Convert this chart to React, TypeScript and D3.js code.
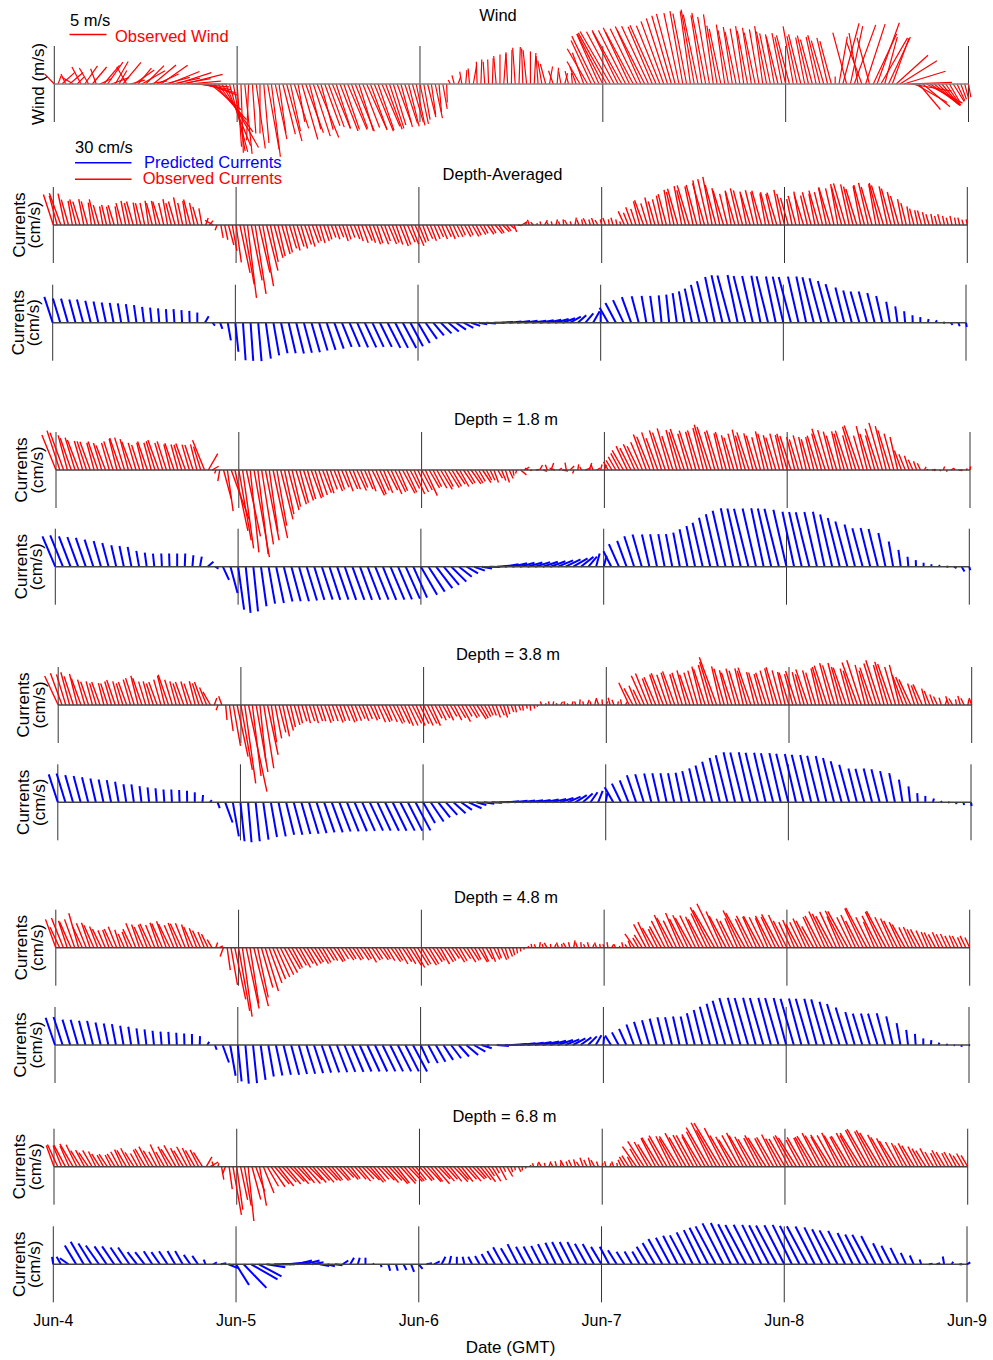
import React from 'react';
import * as d3 from 'd3';

// ---------------- DATA ----------------
const DAY_LABELS = ['Jun-4', 'Jun-5', 'Jun-6', 'Jun-7', 'Jun-8', 'Jun-9'];
const DAY_HOURS = [0, 24, 48, 72, 96, 120];

// Wind: every 30 min, speed (m/s) and direction the stick points (deg clockwise from north)
const windSpeed = [
  1.9,1.2,2.4,1.5,2.4,1.8,1.3,2.6,3.0,2.5,3.0,2.2,1.7,3.3,3.6,2.5,3.5,2.1,3.8,2.7,2.0,3.3,2.8,3.6,3.5,2.4,4.0,3.2,4.4,3.5,4.5,3.8,5.0,4.2,5.4,4.5,4.8,4.6,4.4,4.7,4.5,
  5.4,6.5,8.0,9.9,9.0,9.5,9.2,
  8.5,9.3,9.5,7.6,6.7,8.8,6.7,8.0,9.0,9.9,7.6,6.7,7.0,
  8.0,6.5,6.3,5.2,7.8,7.0,6.3,7.4,7.8,6.4,6.0,
  6.2,6.5,6.3,6.8,6.5,6.7,6.4,6.9,6.6,6.3,6.8,6.5,6.9,6.6,6.2,6.5,6.3,
  5.8,5.5,6.0,5.6,5.9,5.4,5.7,
  5.5,4.9,4.6,4.2,4.7,3.8,3.4,2.5,
  0.6,1.2,1.0,1.7,1.9,2.1,2.6,3.0,3.3,3.0,
  3.3,3.5,3.8,4.0,4.1,4.3,4.6,4.9,5.0,4.8,4.6,4.4,4.2,3.8,3.2,
  2.8,2.4,1.9,2.2,1.7,1.5,1.8,1.5,
  2.5,3.5,4.5,5.5,6.5,7.2,7.4,
  7.6,7.9,8.2,8.0,7.8,8.3,8.1,8.4,8.0,8.3,8.5,8.2,8.6,8.4,8.7,8.5,9.0,9.3,9.6,9.8,
  9.8,10.0,9.7,9.9,10.2,9.6,9.4,9.8,9.2,9.5,
  8.0,7.6,8.1,7.4,7.8,7.2,7.6,7.9,7.3,7.7,7.1,7.5,7.9,7.2,
  7.0,6.8,6.6,7.0,6.5,6.8,7.9,6.6,6.9,6.4,6.7,6.2,6.5,6.8,6.1,6.4,6.0,
  1.0,6.5,8.5,7.2,8.0,8.5,7.0,6.0,8.5,6.5,7.5,8.8,7.2,6.6,7.0,
  6.6,5.8,5.9,5.9,6.0,5.5,5.0,
  4.5,4.8,5.5,5.0,4.2,4.0,3.8,3.5,3.0,2.8,2.5,2.2,2.0,1.8,
];
const windDir = [
  316,20,48,335,50,300,45,332,35,330,40,340,65,40,35,70,30,30,40,330,75,55,40,60,45,80,50,65,55,75,68,78,72,80,76,85,90,95,100,105,110,
  130,138,144,150,158,165,170,
  176,178,174,182,176,172,180,175,170,173,168,172,166,
  165,168,162,170,164,160,166,162,158,165,160,
  160,158,162,159,161,157,160,158,163,159,156,160,158,161,157,160,162,
  163,160,165,162,166,164,168,
  168,170,166,172,168,175,170,178,
  330,345,20,350,5,355,10,358,2,356,
  358,2,355,0,4,357,1,356,2,358,354,0,3,356,350,
  345,10,340,5,350,15,345,355,
  340,330,340,330,335,334,336,
  333,331,330,332,334,331,333,335,332,334,336,333,335,337,336,338,340,342,344,345,
  348,350,349,352,350,348,351,349,350,352,
  350,348,352,349,351,348,350,352,349,351,348,350,352,349,
  348,350,346,349,347,345,350,348,346,349,347,345,348,346,344,347,345,
  0,10,15,345,12,20,350,340,18,345,25,20,30,15,25,
  20,48,58,73,88,100,120,
  140,130,118,125,130,135,140,145,150,148,155,160,165,170,
];

// Observed currents: every 30 min, speed (cm/s) and direction (deg)
const daObsSpeed = [
  17,16,18,17,14,13,14,13,14,13,12,14,11,10,11,10,11,10,12,13,12,13,12,12,
  12,13,12,13,13,12,14,12,13,15,12,13,14,12,10,9,4,3,5,3,7,8,11,14,
  20,26,32,39,30,37,26,33,25,20,18,17,16,15,13,14,12,13,11,12,10,9,10,9,
  8,7,8,7,9,8,7,8,9,10,9,10,11,10,11,9,11,10,11,12,11,10,11,12,
  10,9,8,9,8,7,8,7,8,7,7,6,7,6,7,6,6,5,6,5,6,5,5,4,
  3,4,2,3,2,3,2,1,2,3,2,2,3,2,3,3,2,4,3,3,4,3,4,3,
  3,4,3,4,3,2,8,7,10,9,13,14,12,15,13,14,16,17,19,18,20,21,19,22,
  21,22,24,23,25,26,22,20,19,17,18,19,20,19,18,17,19,18,19,17,18,17,18,19,
  17,15,14,16,18,17,16,18,17,19,18,20,21,20,22,21,23,22,21,20,21,22,23,21,
  22,23,22,21,20,18,16,14,12,10,9,8,8,7,6,6,5,6,5,4,5,4,4,3,3,
];
const daObsDir = [
  342,345,340,348,344,350,346,343,349,345,352,347,344,350,346,348,343,351,345,349,347,344,350,346,
  348,352,345,349,343,347,350,346,344,349,347,351,345,348,344,350,20,40,300,200,170,168,165,170,
  172,168,170,173,169,171,167,170,166,168,165,167,164,166,163,165,162,164,161,163,160,162,164,161,
  163,160,162,159,161,163,160,158,162,160,157,161,159,162,158,160,157,159,161,158,160,156,159,157,
  158,160,156,159,157,155,158,154,157,155,153,156,152,155,150,153,148,152,145,150,140,146,135,142,
  130,160,100,60,20,340,320,10,350,30,330,345,15,340,355,330,345,10,340,350,335,345,340,330,
  345,340,350,343,348,345,335,338,340,342,345,340,343,347,344,346,348,345,350,347,344,349,346,343,
  348,345,350,344,347,349,345,348,343,346,350,344,347,345,349,343,346,348,344,350,345,347,343,349,
  346,344,348,345,350,343,347,345,349,344,346,348,343,347,350,345,344,348,346,343,349,345,347,344,
  350,346,343,348,345,347,344,349,346,350,345,348,344,347,343,349,346,345,348,344,347,350,346,343,348,
];

const obs18Speed = [
  20,22,21,19,18,18,17,16,16,16,15,16,15,14,15,16,17,18,18,17,16,15,14,15,
  16,15,16,17,15,16,14,15,14,14,15,14,14,14,13,17,10,4,2,6,16,22,28,33,
  38,42,36,44,47,45,40,38,33,37,30,27,24,22,20,19,18,17,16,16,15,14,13,13,
  11,12,11,10,12,11,11,12,10,11,12,15,14,12,13,12,14,13,12,14,13,11,14,13,
  12,15,11,10,11,12,10,11,10,9,10,9,8,9,8,7,8,6,6,7,5,6,7,5,
  3,2,4,3,2,1,2,3,2,3,4,3,2,3,4,3,2,3,2,3,4,3,2,3,
  3,5,6,8,10,12,14,13,15,14,16,20,19,21,18,22,21,23,19,22,21,23,20,22,
  21,22,23,25,24,21,22,20,21,19,18,20,22,19,21,20,19,18,21,20,19,18,20,19,
  20,19,18,17,19,18,17,18,19,20,23,22,21,19,21,20,22,19,24,25,19,24,20,19,
  23,26,24,22,20,18,11,9,8,6,5,4,2,1,2,1,1,2,1,2,1,2,1,1,2,
];
const obs18Dir = [
  338,342,340,345,341,343,339,344,342,340,345,341,343,339,344,342,346,341,343,345,340,344,342,346,
  341,345,343,340,344,342,346,341,345,343,340,344,342,346,343,338,30,60,200,190,165,172,160,168,
  170,172,168,174,170,173,171,169,172,168,170,166,168,165,167,163,165,162,164,160,163,161,159,162,
  160,158,161,157,160,156,159,155,158,156,160,154,157,155,158,153,156,154,157,152,155,153,156,154,
  152,155,150,153,151,149,152,148,150,147,151,146,149,145,148,150,146,152,155,160,150,158,162,155,
  170,200,130,60,300,250,80,30,110,340,20,290,60,100,350,45,200,10,330,70,20,340,60,15,
  20,330,328,330,332,330,335,333,336,334,337,340,338,342,340,343,341,344,342,345,343,341,344,342,
  345,343,346,344,342,345,343,347,344,346,343,345,347,344,342,346,343,345,347,344,346,343,345,347,
  344,342,346,343,345,347,344,346,343,345,342,344,346,343,347,344,342,345,343,341,344,346,343,345,
  342,344,346,343,345,347,340,338,342,336,340,335,30,300,80,250,120,20,200,60,330,100,270,40,10,
];

const obs38Speed = [
  17,18,17,18,16,17,15,14,13,13,12,13,12,12,13,14,13,12,13,14,15,16,15,13,
  13,12,13,14,16,17,14,13,12,13,13,12,13,12,13,10,8,4,3,5,8,14,22,28,
  35,42,47,38,36,30,34,27,20,18,15,17,14,12,11,10,9,10,9,10,9,9,10,9,
  9,10,9,9,10,9,9,8,9,8,9,8,10,10,9,10,11,10,11,12,12,11,12,11,
  12,11,12,8,9,8,9,7,9,8,10,7,8,7,9,8,7,6,6,7,6,7,5,4,
  4,3,3,2,3,2,1,2,1,2,2,1,2,2,1,2,2,3,2,3,2,3,4,3,
  2,4,3,2,3,2,13,10,11,9,17,18,15,16,17,18,17,18,19,17,18,19,17,18,
  19,21,20,22,24,27,21,20,19,18,20,19,20,19,21,18,18,17,18,19,20,21,19,18,
  18,17,19,18,17,20,19,18,20,21,22,23,22,23,21,21,20,19,24,25,22,19,21,23,
  25,22,24,23,21,22,17,16,15,12,11,12,9,8,6,5,4,3,5,4,3,5,4,3,4,
];
const obs38Dir = [
  335,340,343,345,342,346,340,344,341,345,343,340,346,342,344,341,345,343,340,344,342,346,341,343,
  345,342,340,344,346,341,343,345,342,340,344,341,346,343,340,338,330,20,200,340,175,172,170,168,
  170,172,168,173,170,174,171,168,172,169,166,168,165,167,164,166,163,165,162,164,161,163,160,162,
  160,158,161,159,157,160,158,156,159,157,155,158,156,154,157,155,153,156,154,157,155,153,156,154,
  155,153,156,152,154,151,155,150,153,149,152,150,148,151,147,150,152,155,158,160,156,162,165,160,
  168,160,172,165,175,170,200,340,20,350,10,345,30,355,320,15,340,5,350,20,345,10,340,355,
  20,345,340,10,350,30,335,332,338,334,336,338,340,337,342,339,341,343,340,344,342,345,341,343,
  344,346,342,345,343,340,347,344,346,342,345,343,347,344,341,346,343,345,342,344,346,343,345,347,
  343,345,342,346,344,341,345,343,347,344,342,345,343,346,344,341,345,343,340,342,346,344,341,343,
  342,345,343,341,344,346,340,338,335,342,340,336,345,338,340,335,343,20,340,330,350,345,335,10,340,
];

const obs48Speed = [
  16,12,17,15,15,16,19,12,14,14,13,12,11,10,10,11,12,10,8,9,11,14,13,12,
  13,14,13,14,14,15,14,13,14,14,14,13,12,11,10,9,8,5,3,2,5,12,20,28,
  34,37,33,30,32,27,22,24,20,18,17,16,15,13,12,11,12,10,11,10,9,10,9,8,
  8,9,8,7,8,7,8,7,8,7,9,8,7,8,7,8,9,8,10,9,10,11,12,11,
  10,11,10,9,8,10,9,8,7,9,8,7,9,8,7,9,8,7,8,7,6,7,6,5,
  4,3,2,1,1,2,2,3,2,3,2,2,3,2,3,3,4,3,3,2,3,2,3,2,
  2,3,2,2,1,3,2,4,9,6,8,14,15,12,11,13,16,19,18,16,20,17,19,18,
  19,18,17,20,24,23,26,21,19,17,16,17,22,21,17,19,18,19,18,17,19,18,20,19,
  16,15,16,14,15,17,16,13,18,19,21,20,19,21,18,22,22,18,19,16,23,24,18,15,
  19,21,22,18,17,16,15,14,12,12,11,11,10,9,9,8,9,8,8,7,7,7,6,7,6,
];
const obs48Dir = [
  340,335,338,342,336,340,344,335,338,341,336,339,334,337,340,335,338,342,336,339,334,338,341,336,
  339,335,338,341,336,340,334,337,339,335,338,342,336,339,335,338,334,330,20,60,200,172,170,168,
  170,172,168,171,166,168,164,163,160,158,156,154,152,150,152,149,151,148,150,147,149,148,150,147,
  149,146,150,147,145,148,146,149,145,147,150,146,148,144,147,149,145,148,150,146,149,147,151,148,
  150,147,149,146,148,151,147,149,145,148,150,146,149,147,152,148,155,150,158,153,160,156,162,158,
  165,170,175,190,20,350,340,10,345,330,355,20,340,350,330,345,10,340,355,335,345,20,340,350,
  340,350,30,335,10,345,330,340,325,330,328,332,335,330,334,331,333,336,332,334,337,333,335,331,
  334,336,332,335,333,330,334,336,332,335,333,337,334,331,335,333,336,332,334,337,333,335,332,336,
  333,335,337,332,334,336,333,331,335,333,336,334,332,335,337,333,331,334,336,333,335,332,334,337,
  333,335,332,334,336,333,335,331,334,336,333,332,335,337,334,332,336,333,335,334,337,333,336,334,335,
];

const obs68Speed = [
  12,13,12,13,12,14,13,10,10,9,10,9,8,7,8,7,8,9,10,10,11,9,8,10,
  11,12,10,9,13,9,12,11,13,11,10,12,11,10,10,9,6,5,3,2,7,4,12,26,
  23,18,21,29,18,14,21,15,12,13,12,13,11,12,11,12,10,11,12,10,11,10,11,10,
  10,9,10,9,8,9,8,9,10,9,10,11,10,9,10,11,10,12,11,12,10,11,10,9,
  10,9,11,10,12,9,10,9,10,11,9,10,9,10,9,8,9,10,6,9,4,8,3,6,
  3,2,3,2,1,1,2,2,3,2,3,2,3,3,4,3,4,4,3,5,4,5,4,3,
  2,3,2,3,2,4,6,7,6,13,11,16,15,14,17,18,17,19,18,17,19,20,18,19,
  19,18,20,21,24,26,22,27,23,19,18,17,19,20,19,18,17,17,19,18,17,18,19,17,
  17,18,19,18,16,18,17,18,19,20,19,18,20,19,20,19,18,19,20,19,21,22,23,21,
  22,21,19,18,17,16,15,14,13,14,13,12,11,10,11,9,8,10,9,8,9,8,7,8,7,
];
const obs68Dir = [
  340,335,338,332,336,330,334,328,332,326,330,334,328,331,327,333,329,332,335,330,333,328,331,334,
  330,333,329,332,335,330,333,328,331,334,329,332,335,330,333,328,30,60,340,20,170,200,172,170,
  172,168,170,174,165,160,170,158,150,145,140,142,138,140,136,139,137,141,138,135,140,137,139,136,
  138,141,137,140,136,139,142,138,140,137,135,139,141,138,136,140,137,139,142,138,140,136,139,141,
  138,140,137,141,139,136,140,138,141,137,139,142,138,140,136,139,141,143,145,148,150,152,155,150,
  160,170,155,180,200,30,340,10,330,350,20,335,345,10,330,340,335,345,330,340,335,345,330,340,
  10,345,20,340,350,335,330,328,332,325,330,327,331,328,333,329,332,330,334,331,328,333,330,332,
  331,333,329,332,330,334,331,329,333,330,332,328,331,334,330,332,329,333,331,328,332,330,334,331,
  330,333,331,328,332,330,334,331,329,333,330,332,328,331,334,330,332,329,333,331,328,332,330,333,
  331,329,333,330,332,328,331,334,330,332,329,333,331,328,332,330,334,331,329,333,330,332,328,331,330,
];

// Predicted currents: hourly, speed (cm/s) and direction (deg)
const daPredSpeed = [
  14.4,13.4,13.3,12.8,12.7,12.0,11.5,11.0,10.7,10.4,10.0,9.4,8.5,8.0,7.6,7.2,7.2,6.7,6.3,5.4,4.0,2.0,
  3.5,9.5,15.5,20.0,20.3,20.5,19.3,17.6,16.6,16.6,16.8,16.5,16.3,15.4,15.2,14.6,13.8,14.0,14.3,14.5,14.2,14.3,15.0,15.0,15.2,14.2,
  12.5,10.5,8.8,8.0,7.2,6.4,5.8,5.0,4.5,
  5.0,5.5,6.0,6.5,7.0,7.0,7.5,7.5,7.5,7.5,7.0,6.5,6.0,6.5,7.0,
  5.5,9.2,11.9,13.2,14.4,14.5,14.5,14.4,14.6,15.0,15.8,16.9,18.5,20.6,22.7,24.8,25.9,25.9,25.9,25.6,25.4,25.4,25.4,25.1,25.1,25.1,25.1,25.1,24.9,
  24.4,22.9,21.3,19.3,17.7,17.2,17.2,16.2,14.5,11.3,8.7,6.1,4.0,3.0,2.0,1.5,1.0,1.5,2.0,2.3,
];
const daPredDir = [
  342,343,344,345,345,346,347,348,349,350,351,352,353,354,355,356,356,357,358,0,30,140,
  160,170,174,176,176,175,172,170,168,167,166,165,164,163,162,160,158,157,156,155,155,154,153,153,152,152,
  150,145,140,135,130,125,118,110,100,
  95,90,86,84,83,82,82,80,78,75,70,60,48,40,30,
  0,330,332,335,340,345,350,352,354,354,352,350,348,347,346,348,347,345,348,346,347,349,346,348,347,345,347,348,346,
  345,345,344,346,345,344,345,346,347,350,352,355,358,0,10,30,90,140,160,170,
];

const pred18Speed = [
  17.5,18.0,17.2,16.8,16.2,15.1,14.2,13.0,11.7,11.2,10.7,8.5,7.5,7.0,7.0,7.0,7.0,7.0,6.1,5.4,4.0,2.0,
  7.7,14.5,23.0,24.6,23.8,21.2,19.9,19.7,19.0,19.0,19.1,18.8,18.4,18.4,18.5,18.5,18.6,18.7,18.7,18.8,18.9,19.0,19.0,18.9,18.6,18.0,
  17.2,15.8,14.3,12.6,11.2,8.6,7.0,6.0,5.5,
  5.5,6.5,7.5,8.0,8.0,8.2,8.3,8.4,8.5,8.7,8.8,8.8,8.5,7.0,7.3,
  6.0,9.2,13.1,14.6,17.0,17.8,17.6,17.6,17.6,17.6,18.4,20.3,22.1,24.0,26.7,28.6,30.5,31.7,31.7,31.7,31.7,31.7,31.7,31.7,31.0,
  29.8,29.8,29.8,29.8,29.8,28.5,26.6,24.8,23.1,21.2,21.2,20.6,18.3,13.6,9.0,5.3,3.5,2.1,1.3,1.0,1.0,1.5,3.0,2.0,
];
const pred18Dir = [
  337,338,339,340,341,342,344,345,347,348,349,350,352,354,357,358,0,2,5,10,50,120,
  155,165,172,174,174,172,170,168,166,165,164,163,163,162,162,161,161,160,160,159,158,158,157,157,156,156,
  150,147,143,140,135,128,120,110,100,
  92,85,80,77,75,74,73,72,70,67,64,60,52,40,15,
  15,333,336,340,342,344,347,348,349,349,349,348,348,347,347,347,347,348,347,346,347,348,347,346,347,
  348,347,346,347,348,347,346,345,346,345,346,346,348,350,352,355,358,0,10,40,90,120,150,165,
];

const pred38Speed = [
  15.6,16.0,15.0,14.4,13.7,13.0,12.4,12.0,11.1,9.7,9.6,8.7,8.0,7.5,6.8,6.8,6.5,6.1,5.3,3.9,1.5,3.3,
  11.4,18.4,20.8,21.3,20.8,20.0,18.7,18.5,17.7,17.8,17.5,17.5,17.2,16.9,17.0,16.6,16.6,16.7,16.6,16.6,16.6,16.8,16.8,16.9,16.9,16.9,
  12.7,12.3,10.1,9.0,8.6,7.0,7.5,5.5,5.5,
  5.5,6.0,6.5,7.0,7.0,7.2,7.2,7.5,7.5,7.5,7.5,7.2,7.0,6.5,6.5,
  5.0,9.2,11.0,12.5,15.2,15.6,15.8,15.8,15.8,15.8,16.0,17.0,18.5,20.1,22.2,24.2,25.8,27.3,27.3,27.3,27.1,27.0,26.8,26.8,26.6,
  26.3,26.0,25.8,25.5,25.2,24.2,22.6,20.6,18.5,18.5,18.5,18.1,17.0,15.8,12.2,8.5,4.9,3.4,2.1,1.0,0.7,1.0,1.5,2.0,
];
const pred38Dir = [
  342,343,344,345,346,347,348,349,350,351,352,353,354,355,356,357,358,359,0,5,40,160,
  160,170,174,175,174,172,170,168,166,165,164,163,162,161,160,159,158,157,156,155,155,154,154,153,153,152,
  150,146,142,138,132,125,115,105,98,
  92,88,85,83,82,81,80,78,76,72,66,58,48,35,22,
  10,330,334,338,341,343,346,347,348,348,348,347,347,346,346,347,346,347,346,347,346,347,346,347,346,
  347,346,347,346,347,346,345,345,346,345,346,346,347,349,351,354,357,0,15,60,100,150,165,170,
];

const pred48Speed = [
  15.3,15.6,14.1,14.0,13.3,13.2,12.3,11.7,11.3,10.4,9.8,8.9,8.3,7.6,7.1,7.0,6.5,6.1,5.8,4.7,2.0,2.7,
  9.9,16.6,19.4,20.6,20.3,18.7,17.0,16.6,16.3,16.4,16.0,16.0,15.7,15.5,15.5,15.5,15.4,15.5,15.4,15.5,15.5,15.6,15.6,15.7,15.7,15.9,
  10.6,10.9,10.2,9.4,8.8,8.2,8.2,7.0,5.7,
  1.5,6.5,7.5,8.0,8.5,8.8,9.0,9.0,8.8,8.5,8.0,7.5,7.0,6.5,6.0,
  4.4,5.9,7.6,9.4,11.6,12.9,13.7,14.5,15.2,15.2,15.5,15.5,17.4,19.1,21.0,22.7,24.4,26.0,26.0,26.0,26.0,26.0,25.9,26.0,25.8,
  25.6,25.6,25.6,25.4,25.2,23.9,22.8,20.8,18.2,17.4,17.4,17.4,17.4,15.6,11.8,8.1,5.9,3.5,2.6,1.3,1.0,0.6,1.0,0.6,
];
const pred48Dir = [
  341,342,343,344,345,346,347,348,349,350,351,352,353,354,355,356,357,358,359,2,30,160,
  160,170,174,175,174,172,170,168,166,165,164,163,162,161,160,159,158,157,156,155,155,154,154,153,153,152,
  155,152,150,147,143,138,130,120,108,
  250,95,90,86,84,82,80,78,75,72,68,62,55,45,30,
  5,328,332,336,340,342,344,345,346,346,347,347,346,346,345,345,344,344,345,344,345,344,345,344,345,
  344,345,344,345,344,344,343,343,344,343,344,343,345,347,350,353,356,0,5,20,60,120,170,100,
];

const pred68Speed = [
  4.0,4.6,5.6,11.7,13.9,13.0,12.2,11.5,11.5,10.8,10.8,8.2,8.2,8.3,7.9,8.3,8.1,8.1,6.1,5.4,2.7,
  2.2,3.0,5.4,13.0,17.4,16.1,13.6,10.1,11.0,12.0,10.0,8.2,8.2,6.1,5.1,4.1,4.0,3.6,4.0,3.6,3.5,0.7,1.6,3.6,3.6,3.4,4.3,
  3.2,3.0,3.4,4.5,4.5,4.0,4.1,4.5,5.1,6.3,8.1,10.3,9.9,12.0,10.6,10.7,11.0,12.0,12.7,13.3,13.3,13.3,12.5,12.3,10.8,10.6,
  8.8,7.9,7.9,7.8,10.9,13.0,15.4,16.0,17.0,17.4,19.0,20.2,21.8,22.8,24.4,24.4,23.9,23.6,23.6,23.3,23.3,23.3,23.3,23.3,
  22.9,22.9,22.5,21.8,20.9,20.4,19.9,18.5,17.8,17.8,16.9,12.4,11.1,9.7,6.7,5.1,2.7,2.0,2.0,4.2,1.5,1.5,2.0,
];
const pred68Dir = [
  350,330,305,329,330,328,325,326,326,326,326,322,322,327,325,327,330,330,325,326,338,
  63,80,112,148,136,120,118,99,90,88,84,76,76,80,101,104,97,56,30,16,0,45,162,164,164,153,159,
  141,80,63,27,13,0,346,333,331,331,330,331,330,333,332,332,333,333,334,333,333,333,331,331,329,332,
  328,328,330,330,329,330,331,332,333,332,333,334,333,332,333,334,333,332,333,334,333,332,333,334,
  333,332,333,334,333,332,333,334,333,332,333,334,333,334,335,336,340,80,75,350,30,90,60,
];

// ---------------- LAYOUT ----------------
const W = 993;
const H = 1360;
const FONT = "'Liberation Sans', Arial, Helvetica, sans-serif";
const RED = '#ff0000';
const BLUE = '#0000ff';

const curLen = d3.scaleLinear().domain([0, 30]).range([0, 56.5]);
const windLen = d3.scaleLinear().domain([0, 5]).range([0, 37]);

type PanelDef = {
  id: string;
  base: number;
  x0: number;
  x1: number;
  color: string;
  width: number;
  speed: number[];
  dir: number[];
  dt: number;
  len: (v: number) => number;
  ylabel: string[];
  title?: string;
  titleX?: number;
  titleY?: number;
};

const PANELS: PanelDef[] = [
  { id: 'wind', base: 84, x0: 54.3, x1: 968.5, color: RED, width: 1.2, speed: windSpeed, dir: windDir, dt: 0.5, len: windLen, ylabel: ['Wind (m/s)'], title: 'Wind', titleX: 498, titleY: 21 },
  { id: 'daObs', base: 225, x0: 53.3, x1: 967.3, color: RED, width: 1.4, speed: daObsSpeed, dir: daObsDir, dt: 0.5, len: curLen, ylabel: ['Currents', '(cm/s)'], title: 'Depth-Averaged', titleX: 502.5, titleY: 180 },
  { id: 'daPred', base: 322.7, x0: 52.7, x1: 966, color: BLUE, width: 2, speed: daPredSpeed, dir: daPredDir, dt: 1, len: curLen, ylabel: ['Currents', '(cm/s)'] },
  { id: 'o18', base: 470, x0: 56, x1: 970, color: RED, width: 1.4, speed: obs18Speed, dir: obs18Dir, dt: 0.5, len: curLen, ylabel: ['Currents', '(cm/s)'], title: 'Depth = 1.8 m', titleX: 506, titleY: 425 },
  { id: 'p18', base: 566.7, x0: 55.3, x1: 969.3, color: BLUE, width: 2, speed: pred18Speed, dir: pred18Dir, dt: 1, len: curLen, ylabel: ['Currents', '(cm/s)'] },
  { id: 'o38', base: 705, x0: 58.2, x1: 971.7, color: RED, width: 1.4, speed: obs38Speed, dir: obs38Dir, dt: 0.5, len: curLen, ylabel: ['Currents', '(cm/s)'], title: 'Depth = 3.8 m', titleX: 508, titleY: 660 },
  { id: 'p38', base: 802.3, x0: 57.8, x1: 971, color: BLUE, width: 2, speed: pred38Speed, dir: pred38Dir, dt: 1, len: curLen, ylabel: ['Currents', '(cm/s)'] },
  { id: 'o48', base: 947.7, x0: 55.8, x1: 969.7, color: RED, width: 1.4, speed: obs48Speed, dir: obs48Dir, dt: 0.5, len: curLen, ylabel: ['Currents', '(cm/s)'], title: 'Depth = 4.8 m', titleX: 506, titleY: 903 },
  { id: 'p48', base: 1045, x0: 55, x1: 969, color: BLUE, width: 2, speed: pred48Speed, dir: pred48Dir, dt: 1, len: curLen, ylabel: ['Currents', '(cm/s)'] },
  { id: 'o68', base: 1166.7, x0: 54, x1: 967.7, color: RED, width: 1.4, speed: obs68Speed, dir: obs68Dir, dt: 0.5, len: curLen, ylabel: ['Currents', '(cm/s)'], title: 'Depth = 6.8 m', titleX: 504.5, titleY: 1122 },
  { id: 'p68', base: 1264.3, x0: 53.3, x1: 967, color: BLUE, width: 2, speed: pred68Speed, dir: pred68Dir, dt: 1, len: curLen, ylabel: ['Currents', '(cm/s)'] },
];

function Panel({ p }: { p: PanelDef }) {
  const x = d3.scaleLinear().domain([0, 120]).range([p.x0, p.x1]);
  const n = Math.min(p.speed.length, p.dir.length);
  const sticks = [];
  for (let i = 0; i < n; i++) {
    const t = i * p.dt;
    if (t > 120) break;
    const r = (p.dir[i] * Math.PI) / 180;
    const L = p.len(p.speed[i]);
    const xb = x(t);
    sticks.push(
      <line key={i} x1={xb} y1={p.base} x2={xb + L * Math.sin(r)} y2={p.base - L * Math.cos(r)} />
    );
  }
  const isWind = p.id === 'wind';
  return (
    <g>
      <g stroke="#333" strokeWidth={1}>
        {DAY_HOURS.map((h) => (
          <line key={h} x1={x(h)} x2={x(h)} y1={p.base - 38} y2={p.base + 38} />
        ))}
      </g>
      <g stroke={p.color} strokeWidth={p.width} fill="none">
        {sticks}
      </g>
      <line x1={x(0)} x2={x(120)} y1={p.base} y2={p.base} stroke={isWind ? '#808080' : '#444'} strokeWidth={1.4} />
      {p.ylabel.length === 1 ? (
        <text transform={`translate(${p.x0 - 10.8},${p.base}) rotate(-90)`} textAnchor="middle" fontSize={17}>
          {p.ylabel[0]}
        </text>
      ) : (
        <g>
          <text transform={`translate(${p.x0 - 28.8},${p.base}) rotate(-90)`} textAnchor="middle" fontSize={17}>
            {p.ylabel[0]}
          </text>
          <text transform={`translate(${p.x0 - 13.3},${p.base}) rotate(-90)`} textAnchor="middle" fontSize={17}>
            {p.ylabel[1]}
          </text>
        </g>
      )}
      {p.title && (
        <text x={p.titleX} y={p.titleY} textAnchor="middle" fontSize={16.5}>
          {p.title}
        </text>
      )}
    </g>
  );
}

export default function App() {
  const last = PANELS[PANELS.length - 1];
  const xDate = d3.scaleLinear().domain([0, 120]).range([last.x0, last.x1]);
  return (
    <svg
      width={W}
      height={H}
      viewBox={`0 0 ${W} ${H}`}
      style={{ position: 'absolute', left: 0, top: 0, background: '#fff' }}
      fontFamily={FONT}
    >
      <rect x={0} y={0} width={W} height={H} fill="#fff" />
      {PANELS.map((p) => (
        <Panel key={p.id} p={p} />
      ))}
      {/* Wind legend */}
      <text x={70} y={26} fontSize={16.5}>5 m/s</text>
      <line x1={69.5} x2={69.5 + windLen(5)} y1={34.5} y2={34.5} stroke={RED} strokeWidth={1.4} />
      <text x={115} y={41.5} fontSize={16.5} fill={RED}>Observed Wind</text>
      {/* Currents legend */}
      <text x={75} y={152.5} fontSize={16.5}>30 cm/s</text>
      <line x1={75} x2={75 + curLen(30)} y1={162.7} y2={162.7} stroke={BLUE} strokeWidth={1.4} />
      <text x={144} y={167.5} fontSize={16.5} fill={BLUE}>Predicted Currents</text>
      <line x1={75} x2={75 + curLen(30)} y1={179.3} y2={179.3} stroke={RED} strokeWidth={1.4} />
      <text x={142.7} y={183.5} fontSize={16.5} fill={RED}>Observed Currents</text>
      {/* Date axis */}
      {DAY_LABELS.map((d, i) => (
        <text key={d} x={xDate(DAY_HOURS[i])} y={1326} textAnchor="middle" fontSize={16}>
          {d}
        </text>
      ))}
      <text x={510.5} y={1353} textAnchor="middle" fontSize={17}>Date (GMT)</text>
    </svg>
  );
}
